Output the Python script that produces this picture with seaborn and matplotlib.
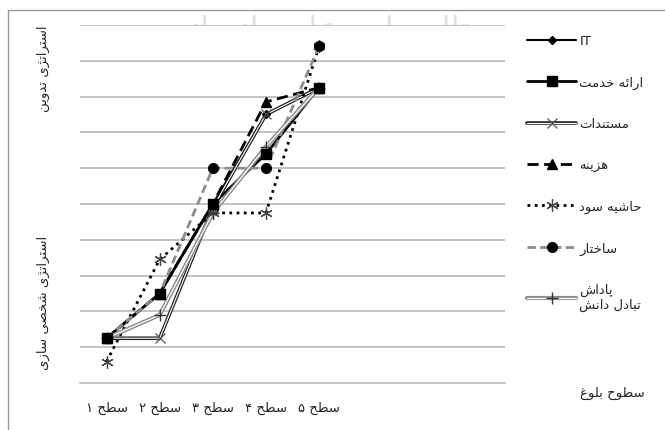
import matplotlib
matplotlib.use("Agg")
import matplotlib.pyplot as plt
from matplotlib.lines import Line2D
from matplotlib.legend_handler import HandlerTuple
import numpy as np
import pandas as pd
import seaborn as sns

# ---------------- data ----------------
levels = ["سطح ۱", "سطح ۲", "سطح ۳", "سطح ۴", "سطح ۵"]
series_names = ["IT", "ارائه خدمت", "مستندات", "هزینه", "حاشیه سود", "ساختار", "پاداش تبادل دانش"]
it_vals = [1.25, 2.5, 5.0, 7.5, 8.25]
khadamat_vals = [1.25, 2.5, 5.0, 6.4, 8.25]
mostanadat_vals = [1.25, 1.25, 4.9, 7.5, 8.25]
hazine_vals = [1.25, 2.5, 5.0, 7.85, 8.25]
hashiye_vals = [0.6, 3.45, 4.75, 4.75, 9.4]
sakhtar_vals = [1.25, 2.5, 6.0, 6.0, 9.4]
padash_vals = [1.25, 1.9, 4.75, 6.6, 8.25]
side_labels = ["استراتژی تدوین", "استراتژی شخصی سازی"]
axis_title = "سطوح بلوغ"
watermark = "پرتال جامع علوم انسانی"

# ------------- simple Persian shaping (logical -> visual) -------------
FORMS = {
    '\u0627': ('\uFE8D', '\uFE8E', None, None), '\u0622': ('\uFE81', '\uFE82', None, None),
    '\u0628': ('\uFE8F', '\uFE90', '\uFE91', '\uFE92'), '\u067E': ('\uFB56', '\uFB57', '\uFB58', '\uFB59'),
    '\u062A': ('\uFE95', '\uFE96', '\uFE97', '\uFE98'), '\u062B': ('\uFE99', '\uFE9A', '\uFE9B', '\uFE9C'),
    '\u062C': ('\uFE9D', '\uFE9E', '\uFE9F', '\uFEA0'), '\u0686': ('\uFB7A', '\uFB7B', '\uFB7C', '\uFB7D'),
    '\u062D': ('\uFEA1', '\uFEA2', '\uFEA3', '\uFEA4'), '\u062E': ('\uFEA5', '\uFEA6', '\uFEA7', '\uFEA8'),
    '\u062F': ('\uFEA9', '\uFEAA', None, None), '\u0630': ('\uFEAB', '\uFEAC', None, None),
    '\u0631': ('\uFEAD', '\uFEAE', None, None), '\u0632': ('\uFEAF', '\uFEB0', None, None),
    '\u0698': ('\uFB8A', '\uFB8B', None, None),
    '\u0633': ('\uFEB1', '\uFEB2', '\uFEB3', '\uFEB4'), '\u0634': ('\uFEB5', '\uFEB6', '\uFEB7', '\uFEB8'),
    '\u0635': ('\uFEB9', '\uFEBA', '\uFEBB', '\uFEBC'), '\u0636': ('\uFEBD', '\uFEBE', '\uFEBF', '\uFEC0'),
    '\u0637': ('\uFEC1', '\uFEC2', '\uFEC3', '\uFEC4'), '\u0638': ('\uFEC5', '\uFEC6', '\uFEC7', '\uFEC8'),
    '\u0639': ('\uFEC9', '\uFECA', '\uFECB', '\uFECC'), '\u063A': ('\uFECD', '\uFECE', '\uFECF', '\uFED0'),
    '\u0641': ('\uFED1', '\uFED2', '\uFED3', '\uFED4'), '\u0642': ('\uFED5', '\uFED6', '\uFED7', '\uFED8'),
    '\u06A9': ('\uFB8E', '\uFB8F', '\uFB90', '\uFB91'), '\u06AF': ('\uFB92', '\uFB93', '\uFB94', '\uFB95'),
    '\u0644': ('\uFEDD', '\uFEDE', '\uFEDF', '\uFEE0'), '\u0645': ('\uFEE1', '\uFEE2', '\uFEE3', '\uFEE4'),
    '\u0646': ('\uFEE5', '\uFEE6', '\uFEE7', '\uFEE8'), '\u0648': ('\uFEED', '\uFEEE', None, None),
    '\u0647': ('\uFEE9', '\uFEEA', '\uFEEB', '\uFEEC'), '\u06CC': ('\uFBFC', '\uFBFD', '\uFBFE', '\uFBFF'),
    '\u0626': ('\uFE89', '\uFE8A', '\uFE8B', '\uFE8C'), '\u0621': ('\uFE80', None, None, None),
}


def _dual(c):
    return c in FORMS and FORMS[c][2] is not None


def _joins(c):
    return c in FORMS and FORMS[c][1] is not None


def shape(text):
    out_lines = []
    for line in text.split("\n"):
        if not any(c in FORMS for c in line):
            out_lines.append(line)
            continue
        shaped = []
        n = len(line)
        for i, c in enumerate(line):
            if c not in FORMS:
                shaped.append(c)
                continue
            prev = line[i - 1] if i > 0 else ""
            nxt = line[i + 1] if i < n - 1 else ""
            jp = _dual(prev) and _joins(c)
            jn = _dual(c) and _joins(nxt)
            iso, fin, ini, med = FORMS[c]
            if jp and jn:
                shaped.append(med)
            elif jp:
                shaped.append(fin)
            elif jn:
                shaped.append(ini)
            else:
                shaped.append(iso)
        runs, cur = [], ""
        for ch in shaped:
            if ch.isdigit():
                cur += ch
            else:
                if cur:
                    runs.append(cur)
                    cur = ""
                runs.append(ch)
        if cur:
            runs.append(cur)
        out_lines.append("".join(reversed(runs)))
    return "\n".join(out_lines)


# ---------------- figure ----------------
sns.set_style("white")
plt.rcParams["font.family"] = ["DejaVu Sans"]

W, H = 665, 431
fig = plt.figure(figsize=(W / 100, H / 100), dpi=100)
ax = fig.add_axes([80 / W, 1 - 384 / H, (505 - 80) / W, (384 - 26) / H])

x = list(range(len(levels)))
grid_col = "#b3b3b3"
for v in range(1, 11):
    ax.axhline(v, color=grid_col, lw=1.1, zorder=0)

# each style: list of line layers (color, lw, ls) + marker spec + marker zorder
styles = [
    dict(vals=it_vals, layers=[("black", 1.5, "-")], marker="D", ms=4, mfc="black", mec="black", mew=1.0, mz=4.0),
    dict(vals=khadamat_vals, layers=[("black", 2.0, "-")], marker="s", ms=7, mfc="black", mec="black", mew=1.0,
         mz=5.0),
    dict(vals=mostanadat_vals, layers=[("#222222", 2.6, "-"), ("white", 0.8, "-")], marker="x", ms=7,
         mfc="#555555", mec="#555555", mew=0.9, mz=4.1),
    dict(vals=hazine_vals, layers=[("black", 2.0, (0, (4, 2)))], marker="^", ms=7, mfc="black", mec="black",
         mew=1.0, mz=4.2),
    dict(vals=hashiye_vals, layers=[("black", 2.0, (0, (1, 1.6)))], marker=(6, 2, 0), ms=9, mfc="#444444",
         mec="#444444", mew=0.9, mz=4.3),
    dict(vals=sakhtar_vals, layers=[("#8c8c8c", 2.0, (0, (3, 1.6)))], marker="o", ms=7, mfc="black",
         mec="black", mew=1.0, mz=4.4),
    dict(vals=padash_vals, layers=[("#8c8c8c", 3.0, "-"), ("white", 0.9, "-")], marker="+", ms=9,
         mfc="#333333", mec="#333333", mew=1.0, mz=4.5),
]

handles = []
for k, (name, st) in enumerate(zip(series_names, styles)):
    df = pd.DataFrame({"x": x, "y": st["vals"]})
    parts = []
    for j, (c, lw, ls) in enumerate(st["layers"]):
        sns.lineplot(data=df, x="x", y="y", ax=ax, color=c, lw=lw, linestyle=ls, zorder=3 + k * 0.1 + j * 0.01)
        parts.append(Line2D([], [], color=c, lw=lw, linestyle=ls))
    sns.lineplot(data=df, x="x", y="y", ax=ax, color=st["mec"], linestyle="none", marker=st["marker"],
                 markersize=st["ms"], markerfacecolor=st["mfc"], markeredgecolor=st["mec"],
                 markeredgewidth=st["mew"], zorder=st["mz"])
    parts.append(Line2D([], [], linestyle="none", marker=st["marker"], markersize=st["ms"],
                        markerfacecolor=st["mfc"], markeredgecolor=st["mec"], markeredgewidth=st["mew"]))
    handles.append(tuple(parts))

ax.set_xlim(-0.5, 7.5)
ax.set_ylim(0, 10)
ax.set_xlabel("")
ax.set_ylabel("")
ax.set_yticks([])
ax.set_xticks(x)
ax.set_xticklabels([shape(l) for l in levels], fontsize=9.5)
ax.tick_params(axis="x", which="major", length=0, pad=13)
ax.set_xticks(np.arange(-0.5, 8.0, 1.0), minor=True)
ax.tick_params(axis="x", which="minor", length=5, color=grid_col, width=1.1, direction="out")
for s in ["top", "right", "left"]:
    ax.spines[s].set_visible(False)
ax.spines["bottom"].set_color(grid_col)
ax.spines["bottom"].set_linewidth(1.1)

labels_vis = [shape(n) for n in series_names]
labels_vis[-1] = shape("پاداش\nتبادل دانش")
leg = fig.legend(handles, labels_vis, loc="upper left", bbox_to_anchor=(522 / W, 1 - 30 / H),
                 frameon=False, fontsize=9.5, handlelength=3.7, handletextpad=0.25, labelspacing=2.15,
                 borderaxespad=0, handler_map={tuple: HandlerTuple(ndivide=1, pad=0)})

fig.text(43 / W, 1 - 69 / H, shape(side_labels[0]), rotation=90, ha="center", va="center", fontsize=9.5)
fig.text(43 / W, 1 - 303 / H, shape(side_labels[1]), rotation=90, ha="center", va="center", fontsize=9.5)
fig.text(580 / W, 1 - 393 / H, shape(axis_title), ha="left", va="center", fontsize=9.5)
fig.text(330 / W, 1 - 32 / H, shape(watermark), ha="center", va="center", fontsize=24, color="#e0e0e0",
         zorder=-1)

# outer frame (top and left edges visible)
fig.add_artist(Line2D([8 / W, 1.0], [1 - 11 / H, 1 - 11 / H], transform=fig.transFigure, color="#9a9a9a", lw=1))
fig.add_artist(Line2D([8 / W, 8 / W], [0, 1 - 11 / H], transform=fig.transFigure, color="#9a9a9a", lw=1))

fig.savefig("out.png", dpi=100, facecolor="white")
